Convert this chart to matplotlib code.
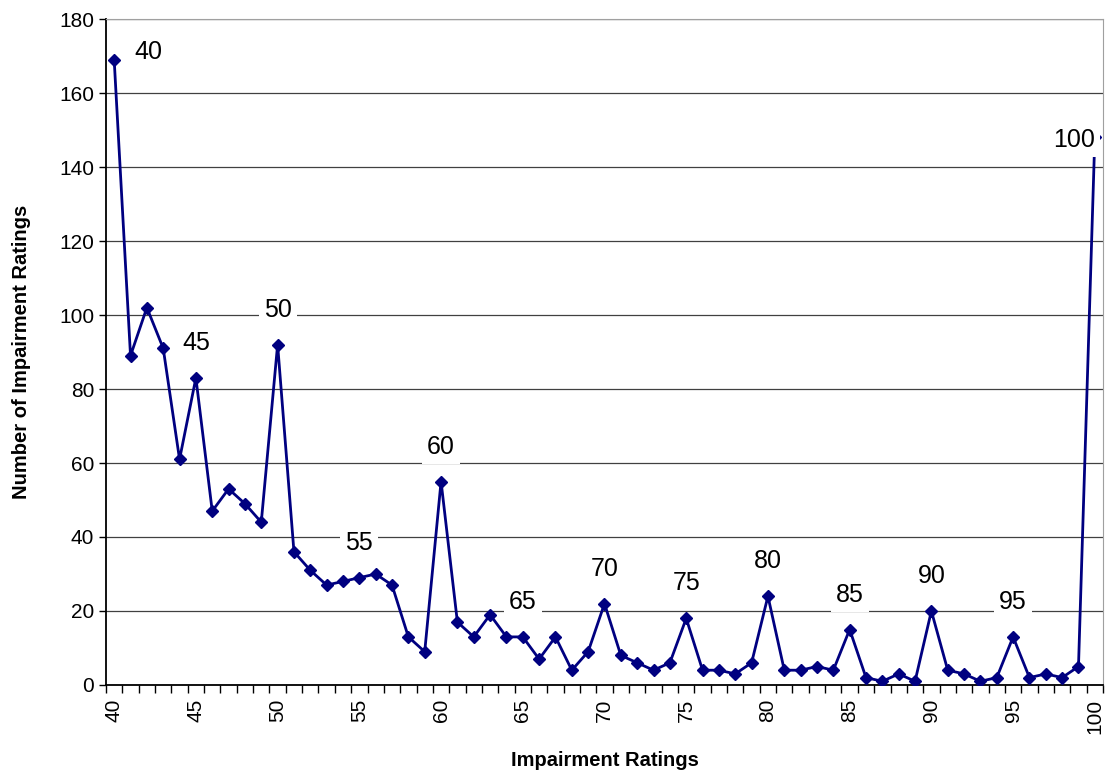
import matplotlib
matplotlib.use("Agg")
import matplotlib.pyplot as plt
import numpy as np

plt.rcParams['font.family'] = ['Liberation Sans', 'DejaVu Sans']

ratings = list(range(40, 101))
counts = [169, 89, 102, 91, 61, 83, 47, 53, 49, 44,
          92, 36, 31, 27, 28, 29, 30, 27, 13, 9,
          55, 17, 13, 19, 13, 13, 7, 13, 4, 9,
          22, 8, 6, 4, 6, 18, 4, 4, 3, 6,
          24, 4, 4, 5, 4, 15, 2, 1, 3, 1,
          20, 4, 3, 1, 2, 13, 2, 3, 2, 5,
          148]
label_ratings = [40, 45, 50, 55, 60, 65, 70, 75, 80, 85, 90, 95, 100]
y_ticks = [0, 20, 40, 60, 80, 100, 120, 140, 160, 180]

fig = plt.figure(figsize=(11.06, 7.77), dpi=100)
ax = fig.add_axes([106/1106, 92/777, (1103-106)/1106, (685-19)/777])

ax.set_xlim(39.5, 100.5)
ax.set_ylim(0, 180)
ax.set_yticks(y_ticks)
ax.yaxis.grid(True, color='#404040', linewidth=0.9)
ax.set_axisbelow(True)

ax.plot(ratings, counts, color='#000080', linewidth=2.0, marker='D',
        markersize=6.5, markerfacecolor='#000080', markeredgecolor='#000080',
        zorder=3, clip_on=True)

for r in label_ratings:
    v = counts[ratings.index(r)]
    if r == 40:
        off = (34, 8)
    elif r == 100:
        off = (-21, -3)
    else:
        off = (0, 35)
    ax.annotate(str(r), (r, v), xytext=off, textcoords='offset pixels',
                ha='center', va='center', fontsize=18, color='black',
                bbox=dict(boxstyle='square,pad=0.2', fc='white', ec='none'),
                zorder=4, annotation_clip=False)

ax.set_xticks(label_ratings)
ax.set_xticklabels([str(r) for r in label_ratings], rotation=90, fontsize=15)
ax.set_xticks(np.arange(39.5, 101.0, 1.0), minor=True)
ax.tick_params(axis='x', which='major', length=0, pad=10)
ax.tick_params(axis='x', which='minor', length=6, direction='out', width=1)
ax.tick_params(axis='y', length=5, direction='out', labelsize=15, width=1)

for s in ['top', 'right']:
    ax.spines[s].set_color('#a0a0a0')
for s in ['left', 'bottom']:
    ax.spines[s].set_color('black')
    ax.spines[s].set_linewidth(1.3)

ax.set_xlabel('Impairment Ratings', fontsize=14.5, fontweight='bold', labelpad=12)
ax.set_ylabel('Number of Impairment Ratings', fontsize=14.5, fontweight='bold', labelpad=20)

fig.savefig('out.png', dpi=100)
